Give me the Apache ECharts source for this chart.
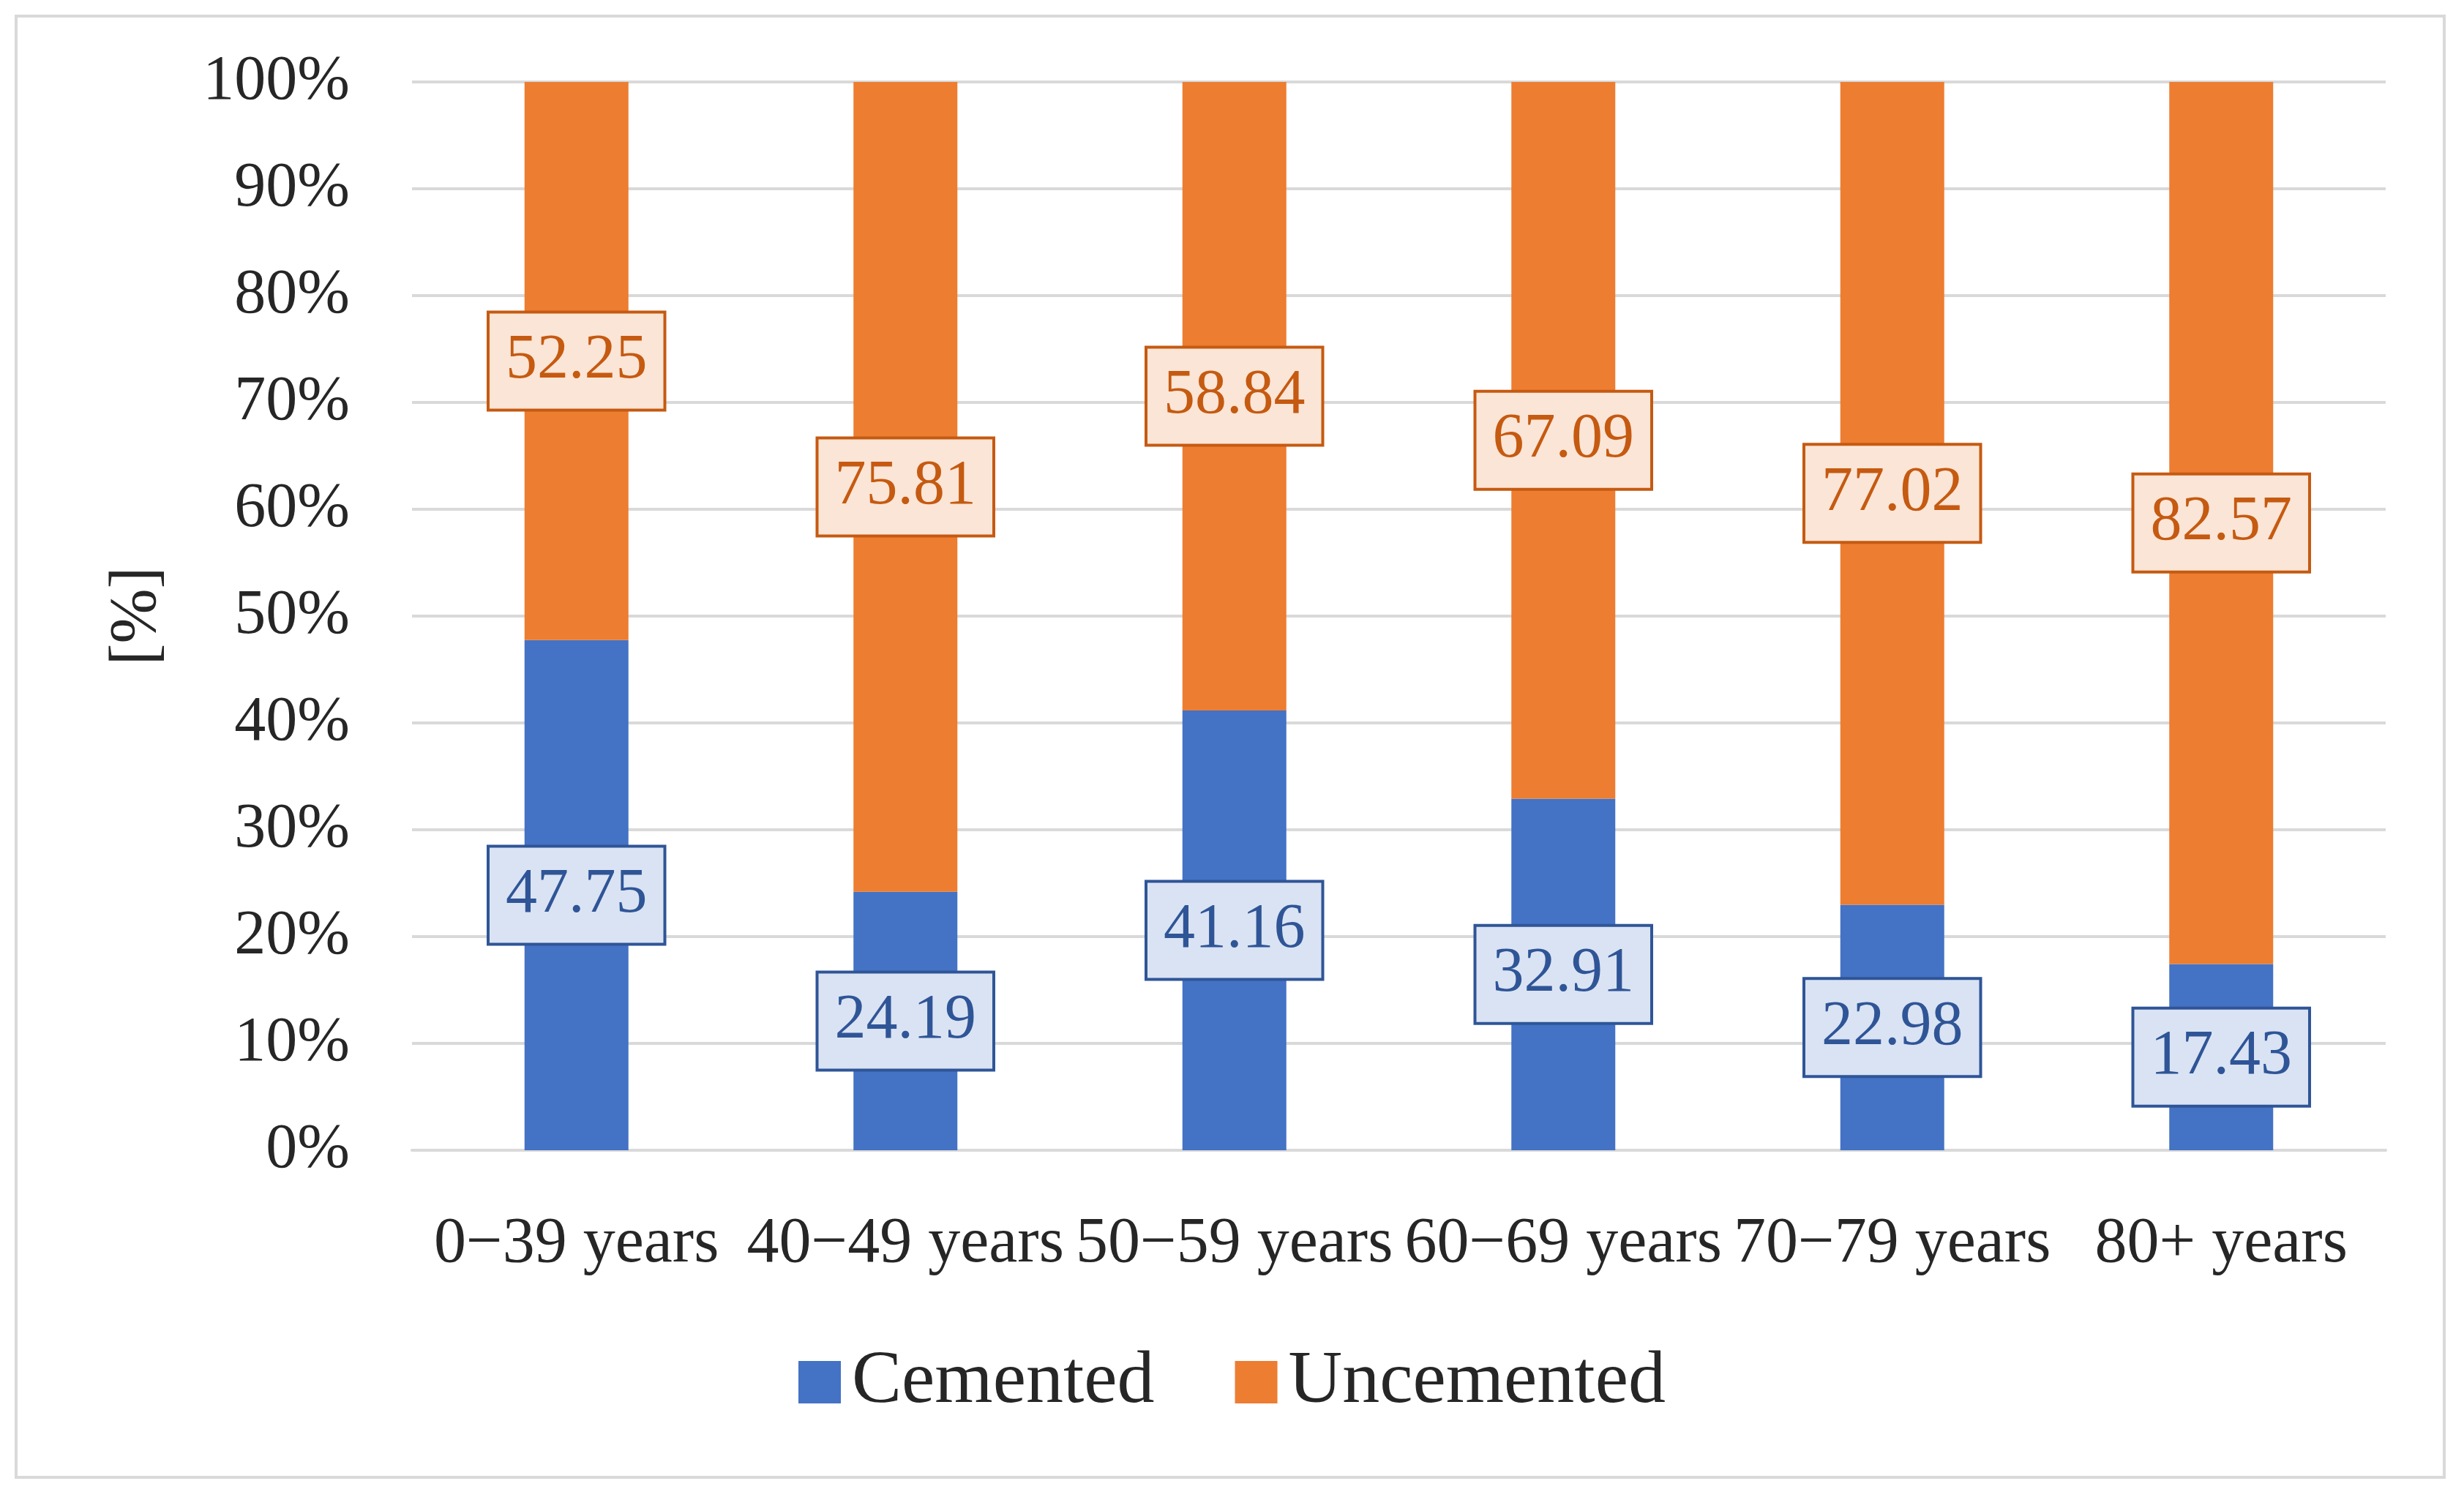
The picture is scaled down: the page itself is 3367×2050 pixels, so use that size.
<!DOCTYPE html>
<html><head><meta charset="utf-8">
<script src="https://cdn.jsdelivr.net/npm/echarts@6/dist/echarts.min.js"></script>
<style>html,body{margin:0;padding:0;background:#fff}#c{width:3367px;height:2050px}</style>
</head><body><div id="c"></div>
<script>
const categories = ['0\u221239 years','40\u221249 years','50\u221259 years','60\u221269 years','70\u221279 years','80+ years'];
const cemented = [47.75, 24.19, 41.16, 32.91, 22.98, 17.43];
const uncemented = [52.25, 75.81, 58.84, 67.09, 77.02, 82.57];
const font = 'Liberation Serif';
const chart = echarts.init(document.getElementById('c'));
function lbl(color, bg){
  return {show:true, position:'inside', formatter:p=>p.value.toFixed(2), fontFamily:font, fontSize:86,
    color:color, backgroundColor:bg, borderColor:color, borderWidth:4, padding:[26,22,18,22]};
}
chart.setOption({
  backgroundColor:'#fff',
  animation:false,
  graphic:[{type:'rect', shape:{x:22,y:22,width:3318,height:1997}, style:{fill:'none', stroke:'#d9d9d9', lineWidth:4}}],
  grid:{left:563, right:107, top:112, bottom:478},
  legend:{bottom:105, left:'center', itemWidth:58, itemHeight:58, itemGap:110,
    textStyle:{fontFamily:font, fontSize:102, color:'#262626', padding:[0,0,0,10]}, icon:'rect'},
  xAxis:{type:'category', data:categories, axisTick:{show:false},
    axisLine:{lineStyle:{color:'#d9d9d9', width:4}},
    axisLabel:{fontFamily:font, fontSize:88, color:'#262626', margin:85, interval:0}},
  yAxis:{type:'value', min:0, max:100, interval:10,
    name:'[%]', nameLocation:'middle', nameGap:330, nameRotate:90,
    nameTextStyle:{fontFamily:font, fontSize:90, color:'#262626'},
    axisLabel:{formatter:'{value}%', fontFamily:font, fontSize:86, color:'#262626', margin:85},
    splitLine:{lineStyle:{color:'#d9d9d9', width:4}}},
  series:[
    {name:'Cemented', type:'bar', stack:'a', data:cemented, barWidth:142, itemStyle:{color:'#4472c4'},
      label:lbl('#2f5597','#dae3f3')},
    {name:'Uncemented', type:'bar', stack:'a', data:uncemented, barWidth:142, itemStyle:{color:'#ed7d31'},
      label:lbl('#c55a11','#fbe5d6')}
  ]
});
</script></body></html>
